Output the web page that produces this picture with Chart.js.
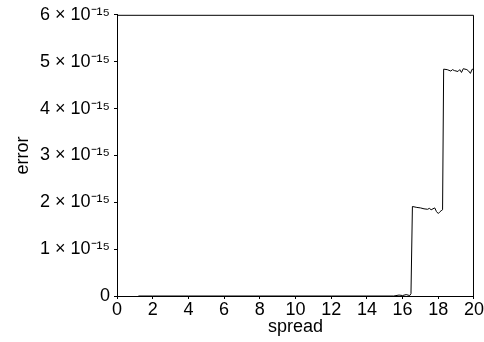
<!DOCTYPE html>
<html lang="en">
<head>
    <meta charset="UTF-8">
    <title>error vs spread</title>
    <script src="https://cdn.jsdelivr.net/npm/chart.js"></script>
    <style>
        html, body {
            margin: 0;
            padding: 0;
            background-color: #ffffff;
        }
        #wrap {
            width: 484px;
            height: 342px;
        }
    </style>
</head>
<body>

    <div id="wrap"><canvas id="errorChart"></canvas></div>

    <script>
        // values
        const spread = [1.2, 2, 4, 6, 8, 10, 12, 14, 15.5, 15.8, 16.0, 16.2, 16.4, 16.47,
            16.55, 16.8, 17.0, 17.2, 17.4, 17.5, 17.6, 17.8, 17.9, 18.0, 18.1, 18.2, 18.24,
            18.3, 18.5, 18.7, 18.8, 18.9, 19.1, 19.2, 19.3, 19.4, 19.6, 19.7, 19.8, 19.9, 20.0];
        const error = [0, 0, 0, 0, 0, 0, 0, 0, 0, 0.02e-15, 0.01e-15, 0.03e-15, 0.01e-15, 0.05e-15,
            1.91e-15, 1.89e-15, 1.88e-15, 1.86e-15, 1.85e-15, 1.87e-15, 1.84e-15, 1.88e-15, 1.80e-15, 1.76e-15, 1.80e-15, 1.83e-15, 1.84e-15,
            4.84e-15, 4.83e-15, 4.80e-15, 4.83e-15, 4.81e-15, 4.79e-15, 4.83e-15, 4.77e-15, 4.85e-15, 4.83e-15, 4.80e-15, 4.75e-15, 4.84e-15, 4.83e-15];

        const xTicks = [0, 2, 4, 6, 8, 10, 12, 14, 16, 18, 20];
        const yTicks = [0, 1e-15, 2e-15, 3e-15, 4e-15, 5e-15, 6e-15];

        const font = { family: '"Liberation Sans", Arial, sans-serif', size: 18 };

        // top and right edges of the box
        const frame = {
            id: 'frame',
            afterDraw(chart) {
                const a = chart.chartArea;
                const ctx = chart.ctx;
                ctx.save();
                ctx.strokeStyle = '#000';
                ctx.lineWidth = 1;
                ctx.beginPath();
                ctx.moveTo(a.left, a.top + 0.5);
                ctx.lineTo(a.right - 0.5, a.top + 0.5);
                ctx.lineTo(a.right - 0.5, a.bottom);
                ctx.stroke();
                ctx.restore();
            }
        };

        new Chart(document.getElementById('errorChart'), {
            type: 'line',
            data: {
                datasets: [{
                    data: spread.map((s, i) => ({ x: s, y: error[i] })),
                    borderColor: '#000',
                    borderWidth: 1,
                    pointRadius: 0,
                    tension: 0,
                    fill: false
                }]
            },
            options: {
                responsive: true,
                maintainAspectRatio: false,
                animation: false,
                layout: { padding: { top: 14, right: 8, left: 0, bottom: 4 } },
                plugins: { legend: { display: false }, tooltip: { enabled: false } },
                scales: {
                    x: {
                        type: 'linear',
                        min: 0,
                        max: 20,
                        afterBuildTicks: s => { s.ticks = xTicks.map(v => ({ value: v })); },
                        ticks: { color: '#000', font: font, padding: 0, maxRotation: 0 },
                        grid: { drawOnChartArea: false, tickLength: 3, color: '#000' },
                        border: { color: '#000', width: 1 },
                        title: { display: true, text: 'spread', color: '#000', font: font, padding: 0 },
                        afterFit: s => { s.height = 42; }
                    },
                    y: {
                        min: 0,
                        max: 6e-15,
                        afterBuildTicks: s => { s.ticks = yTicks.map(v => ({ value: v })); },
                        ticks: {
                            color: '#000',
                            font: font,
                            padding: 4,
                            callback: v => {
                                const n = Math.round(v / 1e-15);
                                return n === 0 ? '0' : n + ' \u00d7 10\u207b\u00b9\u2075';
                            }
                        },
                        grid: { drawOnChartArea: false, tickLength: 3, color: '#000' },
                        border: { color: '#000', width: 1 },
                        title: { display: true, text: 'error', color: '#000', font: font, padding: { top: 12, bottom: 0 } },
                        afterFit: s => { s.width = 117; }
                    }
                }
            },
            plugins: [frame]
        });
    </script>

</body>
</html>
